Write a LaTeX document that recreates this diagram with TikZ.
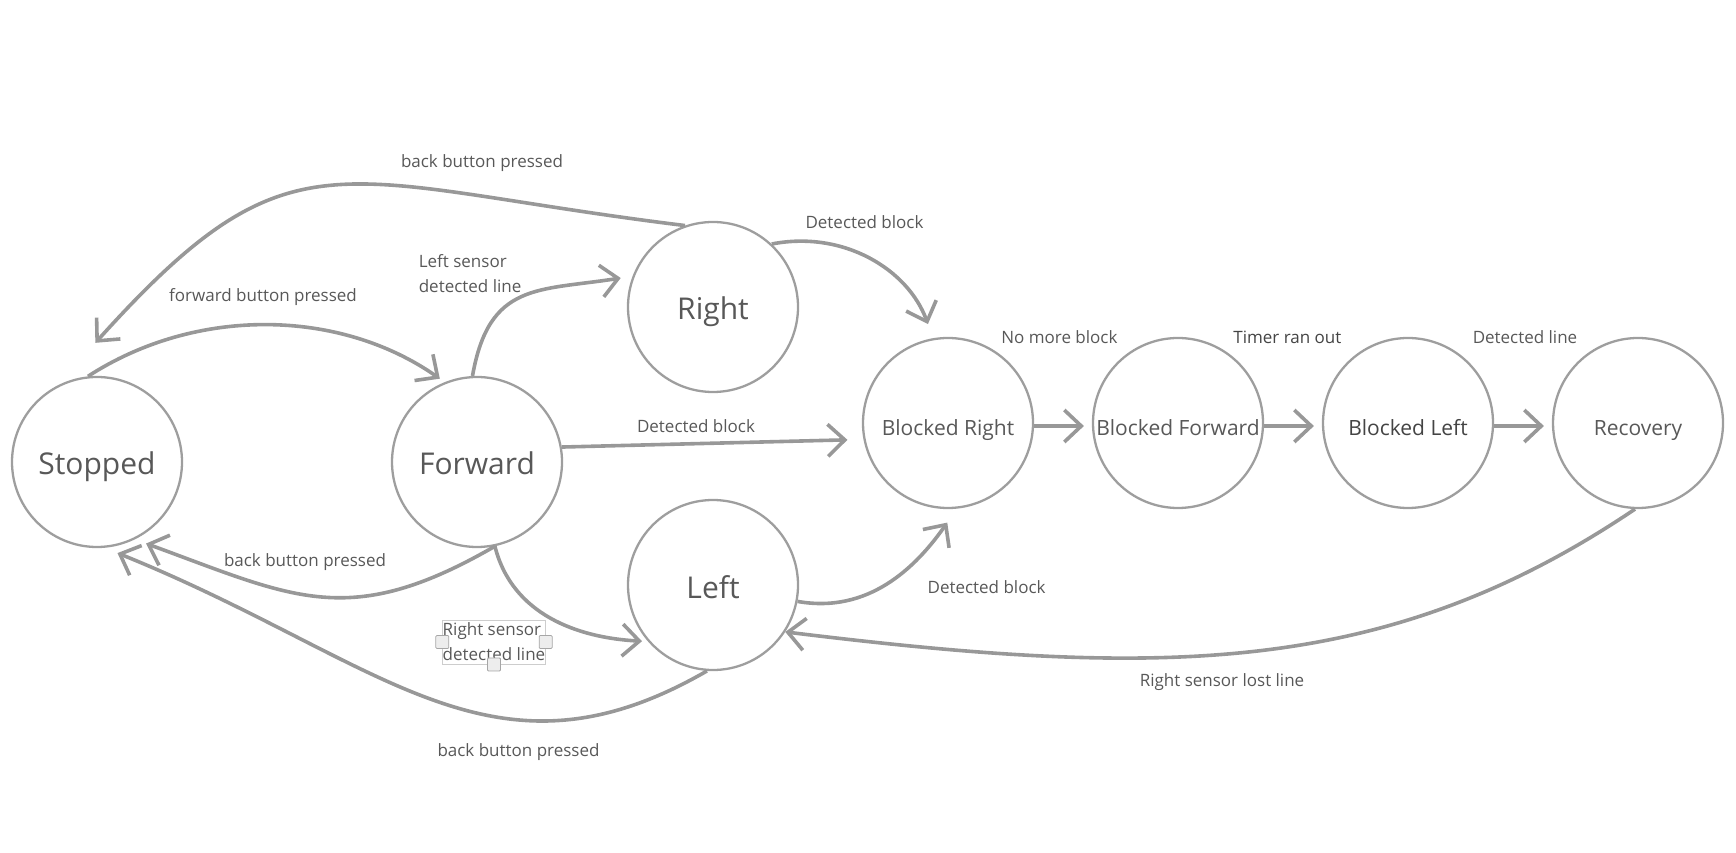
\documentclass[tikz,border=0pt]{standalone}
\usepackage{fontspec}
\setmainfont{Open Sans}
\usepackage{tikz}
\usetikzlibrary{arrows.meta}

\definecolor{linegray}{RGB}{152,152,152}
\definecolor{rimgray}{RGB}{158,158,158}
\definecolor{inkgray}{RGB}{88,88,88}
\definecolor{darkink}{RGB}{68,68,68}
\definecolor{selgray}{RGB}{205,205,205}

\begin{document}
\begin{tikzpicture}[x=1pt,y=1pt,>={Straight Barb[length=17pt,width=32pt]}]
		\tikzstyle{every path}=[line width=3.6pt]
		\tikzstyle{TransSty}=[->,color=linegray]

		\tikzstyle{StateSty}=[circle,draw=rimgray,line width=2.3pt,
								minimum size=170pt,inner sep=0pt,
								text height=26pt,text depth=0pt,
								text=inkgray,font=\fontsize{30}{36}\selectfont]
		\tikzstyle{BlockSty}=[StateSty,text height=25pt,
								font=\fontsize{21}{25}\selectfont]
		\tikzstyle{LabelSty}=[text=inkgray,inner sep=0pt,
								font=\fontsize{17}{25}\selectfont]
		\tikzstyle{HandleSty}=[draw=black!35,fill=black!7,line width=0.8pt,
								minimum size=13pt,inner sep=0pt,rounded corners=1pt]

\useasboundingbox (0,0) rectangle (1736,852);

% States
	\node [StateSty] at (97,390) (stopped) {Stopped};
	\node [StateSty] at (477,390) (forward) {Forward};
	\node [StateSty] at (713,545) (right) {Right};
	\node [StateSty] at (713,267) (left) {Left};

% Blocked chain
	\node [BlockSty] at (948,429) (bright) {Blocked Right};
	\node [BlockSty] at (1178,429) (bforward) {Blocked Forward};
	\node [BlockSty,text=darkink] at (1408,429) (bleft) {Blocked Left};
	\node [BlockSty] at (1638,429) (recovery) {Recovery};

% Labels
	\node [LabelSty] at (482,689) (lblbacktop) {back button pressed};
	\node [LabelSty] at (263,555) (lblfwdbtn) {forward button pressed};
	\node [LabelSty,align=left,anchor=west] at (417,578.5) (lblleftsens) {Left sensor\\detected line};
	\node [LabelSty] at (696,426) (lblblockmid) {Detected block};
	\node [LabelSty] at (864.5,630) (lblblocktop) {Detected block};
	\node [LabelSty] at (305,290) (lblbackmid) {back button pressed};
	\node [LabelSty,align=left,draw=selgray,line width=0.8pt,inner ysep=3pt] at (494,210) (lblrightsens) {Right sensor\\detected line};
	\node [LabelSty] at (518.5,100) (lblbacklow) {back button pressed};
	\node [LabelSty] at (986.6,265) (lblblocklow) {Detected block};
	\node [LabelSty] at (1059.4,515) (lblnoblock) {No more block};
	\node [LabelSty,text=darkink] at (1287.4,515) (lbltimer) {Timer ran out};
	\node [LabelSty] at (1525,515) (lblline) {Detected line};
	\node [LabelSty] at (1222,170) (lbllost) {Right sensor lost line};

	\node [HandleSty] at (lblrightsens.west) (hdlwest) {};
	\node [HandleSty] at (lblrightsens.east) (hdleast) {};
	\node [HandleSty] at (lblrightsens.south) (hdlsouth) {};

	\path[TransSty] (stopped.96) edge[out=33,in=145,looseness=0.92,shorten >=6pt] (forward.112);
	\path[TransSty] (right.109) edge[out=173,in=48,looseness=1.4,shorten >=58pt] (stopped.118);
	\path[TransSty] (forward.93) edge[out=80,in=189,looseness=1.3,shorten >=12pt] (right.159);
	\path[TransSty] (forward.10) edge[shorten >=16pt] (bright.191);
	\path[TransSty] (right.47) edge[out=11,in=110,shorten >=15pt] (bright.100);
	\path[TransSty] (forward.-78) edge[out=210,in=-20,looseness=1.2,shorten >=12pt] (stopped.-64);
	\path[TransSty] (left.266) edge[out=210,in=-22,out distance=250pt,in distance=300pt,shorten >=14pt] (stopped.-85);
	\path[TransSty] (forward.-78) edge[out=-76,in=177,shorten >=6pt] (left.221);
	\path[TransSty] (left.-11) edge[out=-10,in=235,shorten >=17pt] (bright.-84);
	\path[TransSty] (bright.-2) edge[shorten >=8pt] (bforward.182);
	\path[TransSty] (bforward.-2) edge[shorten >=8pt] (bleft.182);
	\path[TransSty] (bleft.-2) edge[shorten >=8pt] (recovery.182);
	\path[TransSty] (recovery.268) edge[out=214,in=-7,out distance=300pt,in distance=380pt] (left.-33);

\end{tikzpicture}
\end{document}
